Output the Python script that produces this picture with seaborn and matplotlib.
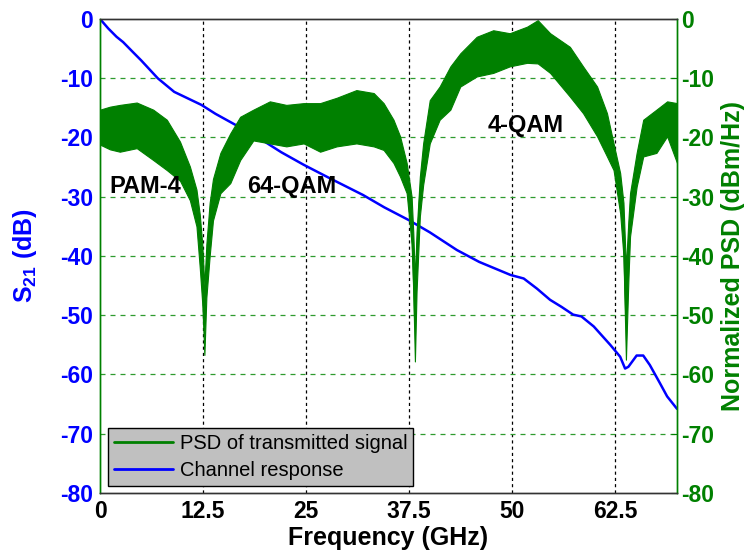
import numpy as np
import pandas as pd
import matplotlib
matplotlib.use("Agg")
import matplotlib.pyplot as plt
from matplotlib.lines import Line2D
import seaborn as sns

# Channel response S21 (dB) versus frequency (GHz)
s21_freq = [0, 1, 2, 2.8, 4, 5, 7, 9, 12.3, 14, 16.6, 19.4, 22, 24.7, 27.9, 31.9,
            34.5, 37.4, 40, 43.3, 46, 49.8, 51.4, 53, 54.6, 56, 57.4, 58.4, 59.9,
            61.9, 63.1, 63.7, 64.1, 65.1, 65.9, 66.7, 67.9, 68.8, 70]
s21_db = [0, -1.6, -3.0, -3.9, -5.6, -7.0, -10, -12.3, -14.5, -16, -18, -20.2,
          -22.5, -24.6, -26.9, -29.7, -31.8, -33.9, -36, -39, -41, -43.2, -43.8,
          -45.5, -47.4, -48.6, -49.9, -50.2, -51.9, -55, -57, -59, -58.7, -56.8,
          -56.8, -58.4, -61.4, -63.7, -65.8]

# Transmitted-signal PSD (dBm/Hz): upper and lower edges of the noisy trace
psd_freq = [0.0, 1.2, 2.4, 4.45, 6.45, 8.1, 9.7, 10.9, 11.7, 12.1, 12.4, 12.66,
            12.9, 13.3, 13.7, 14.6, 15.8, 17.0, 18.6, 20.6, 22.6, 24.7, 26.7,
            28.7, 31.1, 33.2, 34.4, 35.6, 36.4, 37.2, 37.8, 38.0, 38.2, 38.4,
            38.8, 39.2, 40.0, 41.2, 42.5, 43.7, 45.7, 47.7, 49.7, 51.8, 53.1,
            54.6, 57.0, 58.6, 60.3, 61.5, 62.3, 63.1, 63.5, 63.8, 64.1, 64.3,
            65.1, 65.9, 67.5, 68.8, 70.0]
psd_upper = [-15.3, -14.8, -14.5, -14.1, -15.3, -17.0, -20.7, -24.9, -28.8, -33,
             -38, -45, -38, -31, -27, -22.6, -19.3, -16.5, -15.3, -13.9, -14.5,
             -14.2, -14.2, -13.3, -12.0, -12.5, -14.2, -17.0, -19.8, -24.3, -30,
             -36, -44, -36, -26.6, -21, -13.7, -11.4, -8.0, -5.8, -3.0, -1.9,
             -2.4, -1.3, -0.2, -2.4, -4.7, -8.0, -11.4, -15.9, -21, -26, -31,
             -42, -34, -29.4, -22.6, -17.0, -15.3, -13.9, -14.2]
psd_lower = [-21.2, -22.0, -22.4, -21.8, -23.8, -25.5, -27.3, -30.6, -35.0, -42,
             -48, -56.7, -47, -40, -34, -29.4, -27.7, -23.8, -20.5, -21.0, -21.5,
             -21.0, -22.4, -21.5, -21.0, -21.5, -22.1, -24.3, -26.6, -29.4, -38,
             -46, -57.8, -46, -33.3, -28, -21.0, -17.0, -15.3, -11.4, -9.7, -9.1,
             -8.0, -7.4, -7.5, -9.1, -13.1, -15.9, -19.8, -23.2, -25.5, -32.8,
             -40, -57.5, -44, -36.7, -28.3, -23.2, -22.6, -19.8, -24.3]

x_ticks = [0, 12.5, 25, 37.5, 50, 62.5]
x_tick_labels = ["0", "12.5", "25", "37.5", "50", "62.5"]
y_ticks = [0, -10, -20, -30, -40, -50, -60, -70, -80]

s21_df = pd.DataFrame({"freq": s21_freq, "s21": s21_db})
psd_df = pd.DataFrame({"freq": psd_freq, "upper": psd_upper, "lower": psd_lower})
psd_df["mid"] = (psd_df["upper"] + psd_df["lower"]) / 2

sns.set_style("white")
plt.rcParams["font.family"] = ["Liberation Sans", "DejaVu Sans"]
plt.rcParams["axes.unicode_minus"] = False
plt.rcParams["text.color"] = "black"
plt.rcParams["mathtext.fontset"] = "custom"
plt.rcParams["mathtext.rm"] = "Liberation Sans"
plt.rcParams["mathtext.bf"] = "Liberation Sans:bold"

BLUE = "#0000FF"
GREEN = "#008000"
GRID_GREEN = "#2E9B2E"

fig = plt.figure(figsize=(7.51, 5.52), dpi=100)
ax = fig.add_axes([0.1332, 0.1069, 0.7683, 0.8587])
ax2 = ax.twinx()

# Channel response on the left axis
sns.lineplot(data=s21_df, x="freq", y="s21", ax=ax, color=BLUE, linewidth=1.8)

# PSD band on the right axis
ax2.fill_between(psd_df["freq"], psd_df["lower"], psd_df["upper"],
                 color=GREEN, linewidth=0.8, edgecolor=GREEN)
sns.lineplot(data=psd_df, x="freq", y="mid", ax=ax2, color=GREEN, linewidth=1.2)

for a in (ax, ax2):
    a.set_xlim(0, 70)
    a.set_ylim(-80, 0)
    a.set_yticks(y_ticks)

ax.set_xticks(x_ticks)
ax.set_xticklabels(x_tick_labels)

# Grid: black dotted verticals, green dashed horizontals
ax.set_axisbelow(True)
for xv in x_ticks[1:]:
    ax.axvline(xv, color="black", linestyle=(0, (2.5, 2.5)), linewidth=0.9, zorder=0)
for yv in y_ticks[1:-1]:
    ax.axhline(yv, color=GRID_GREEN, linestyle=(0, (4, 4)), linewidth=0.9, zorder=0)

# Axis styling
TICK_FS = 16.5
ax.tick_params(axis="y", colors=BLUE, labelsize=TICK_FS, direction="in", length=0, pad=5)
ax.tick_params(axis="x", colors="black", labelsize=TICK_FS, direction="in", length=4, pad=5)
ax2.tick_params(axis="y", colors=GREEN, labelsize=TICK_FS, direction="in", length=4, pad=3)
for lbl in ax.get_xticklabels() + ax.get_yticklabels() + ax2.get_yticklabels():
    lbl.set_fontweight("bold")

ax.set_xlabel("Frequency (GHz)", fontsize=18, fontweight="bold", color="black", labelpad=2)
ax.set_ylabel(r"$\mathbf{S_{21}}$ (dB)", fontsize=18, fontweight="bold", color=BLUE, labelpad=15)
ax2.set_ylabel("Normalized PSD (dBm/Hz)", fontsize=18, fontweight="bold", color=GREEN, labelpad=5)

for a in (ax, ax2):
    a.spines["left"].set_color(GREEN)
    a.spines["right"].set_color(GREEN)
    a.spines["top"].set_color("#333333")
    a.spines["bottom"].set_color("#333333")
    for s in a.spines.values():
        s.set_linewidth(1.0)

# Modulation format annotations
for fx, fy, txt in [(5.5, -28.3, "PAM-4"), (23.3, -28.3, "64-QAM"), (51.7, -17.9, "4-QAM")]:
    ax2.text(fx, fy, txt, fontsize=17, fontweight="bold", color="black",
             ha="center", va="center", zorder=5)

# Legend
handles = [Line2D([0], [0], color=GREEN, linewidth=2),
           Line2D([0], [0], color=BLUE, linewidth=2)]
leg = ax2.legend(handles, ["PSD of transmitted signal", "Channel response"],
                 loc="lower left", bbox_to_anchor=(0.014, 0.015), fontsize=14.5,
                 frameon=True, fancybox=False, facecolor="#C0C0C0", edgecolor="black",
                 framealpha=1, borderpad=0.3, handlelength=2.9, labelspacing=0.4,
                 handletextpad=0.35, borderaxespad=0)
leg.get_frame().set_linewidth(1.0)
leg.set_zorder(6)
for t in leg.get_texts():
    t.set_color("black")

fig.savefig("out.png", dpi=100)
